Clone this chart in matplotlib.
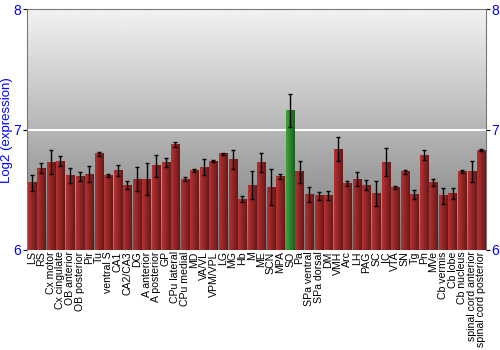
import matplotlib
matplotlib.use("Agg")
import matplotlib.pyplot as plt
import numpy as np

plt.rcParams['font.family'] = ['Liberation Sans', 'DejaVu Sans']

regions = ["LS", "RS", "Cx motor", "Cx cingulate", "OB anterior", "OB posterior",
           "Pir", "Tu", "ventral S", "CA1", "CA2/CA3", "DG", "A anterior",
           "A posterior", "GP", "CPu lateral", "CPu medial", "MD", "VA/VL",
           "VPM/VPL", "LG", "MG", "Hb", "M", "ME", "SCN", "MPA", "SO", "Pa",
           "SPa ventral", "SPa dorsal", "DM", "VMH", "Arc", "LH", "PAG", "SC",
           "IC", "VTA", "SN", "Tg", "Pn", "MVe", "Cb vermis", "Cb lobe",
           "Cb nucleus", "spinal cord anterior", "spinal cord posterior"]
values = [6.56, 6.68, 6.73, 6.74, 6.62, 6.61, 6.63, 6.80, 6.62, 6.66, 6.54, 6.59,
          6.59, 6.70, 6.73, 6.88, 6.59, 6.66, 6.69, 6.74, 6.80, 6.75, 6.42, 6.54,
          6.73, 6.52, 6.61, 7.16, 6.65, 6.46, 6.45, 6.45, 6.84, 6.55, 6.59, 6.54,
          6.47, 6.73, 6.52, 6.65, 6.46, 6.79, 6.56, 6.45, 6.47, 6.65, 6.65, 6.83]
errors = [0.066, 0.04, 0.10, 0.04, 0.06, 0.04, 0.065, 0.017, 0.01, 0.045, 0.035, 0.10,
          0.13, 0.09, 0.037, 0.02, 0.017, 0.01, 0.065, 0.005, 0.01, 0.08, 0.025, 0.115,
          0.08, 0.15, 0.02, 0.14, 0.09, 0.06, 0.035, 0.037, 0.10, 0.02, 0.06, 0.045,
          0.107, 0.116, 0.014, 0.017, 0.04, 0.04, 0.028, 0.066, 0.044, 0.011, 0.087, 0.006]
highlight = "SO"

fig = plt.figure(figsize=(5, 3.5), dpi=100)
ax = fig.add_axes([0.054, 0.286, 0.918, 0.687])
x = np.arange(len(regions))
ax.set_xlim(-0.5, len(regions) - 0.5)
ax.set_ylim(6, 8)

# background gradient
bg = np.linspace(0.47, 0.95, 256).reshape(-1, 1)
ax.imshow(bg, cmap="gray", vmin=0, vmax=1, aspect="auto", origin="lower",
          extent=[-0.5, len(regions) - 0.5, 6, 8], zorder=0)
ax.axhline(7, color="white", lw=1.5, zorder=1)

colors = ["#3aa63a" if r == highlight else "#b83030" for r in regions]
bars = ax.bar(x, np.array(values) - 6, bottom=6, width=0.85, color=colors, zorder=2)

# horizontal shading on each bar
shade = np.linspace(1.0, 0.55, 32).reshape(1, -1)
for b, c in zip(bars, colors):
    rgb = np.array(matplotlib.colors.to_rgb(c))
    img = (shade[..., None] * rgb[None, None, :]).clip(0, 1)
    ax.imshow(img, aspect="auto", extent=[b.get_x(), b.get_x() + b.get_width(),
              b.get_y(), b.get_y() + b.get_height()], zorder=3)

ax.errorbar(x, values, yerr=errors, fmt="none", ecolor="black", elinewidth=1,
            capsize=1.6, capthick=1, zorder=4)

ax.set_xticks(x)
ax.set_xticklabels(regions, rotation=90, fontsize=7.6)
ax.tick_params(axis="x", length=0, pad=1)
ax.set_yticks([6, 7, 8])
ax.tick_params(axis="y", colors="black", labelcolor="blue", labelsize=10,
               length=3, pad=1, right=True, labelright=True)
ax.set_ylabel("Log2 (expression)", color="blue", fontsize=9.5)
ax.yaxis.set_label_coords(-0.03, 0.5)
for s in ax.spines.values():
    s.set_color("#777777")
ax.spines["bottom"].set_visible(False)

fig.savefig("out.png", dpi=100)
